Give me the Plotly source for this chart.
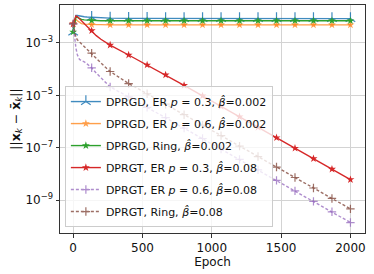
import numpy as np
import plotly.graph_objects as go

# Epoch grid (dense early, then every 2000/15 epochs)
epochs = [0, 10, 20, 30, 45, 60, 80, 100, 133.3, 166.7, 200, 233.3, 266.7, 400, 533.3,
          666.7, 800, 933.3, 1066.7, 1200, 1333.3, 1466.7, 1600, 1733.3, 1866.7, 2000]

# log10 of ||x_k - xbar_k||
dprgd_er03 = [-2.58, -2.15, -1.95, -1.95, -1.97, -1.99, -2.0, -2.01, -2.02, -2.03, -2.04, -2.05, -2.05,
              -2.06, -2.06, -2.07, -2.07, -2.07, -2.07, -2.07, -2.07, -2.07, -2.07, -2.07, -2.07, -2.07]
dprgd_er06 = [-2.27, -2.15, -2.1, -2.15, -2.22, -2.26, -2.28, -2.29, -2.3, -2.3, -2.3, -2.31, -2.31,
              -2.31, -2.31, -2.31, -2.31, -2.31, -2.31, -2.31, -2.31, -2.31, -2.31, -2.31, -2.31, -2.31]
dprgd_ring = [-2.58, -2.2, -2.0, -2.02, -2.07, -2.1, -2.12, -2.13, -2.14, -2.14, -2.15, -2.15, -2.15,
              -2.15, -2.15, -2.15, -2.15, -2.15, -2.15, -2.15, -2.15, -2.15, -2.15, -2.15, -2.15, -2.15]
dprgt_er03 = [-2.27, -2.1, -1.97, -1.99, -2.07, -2.15, -2.27, -2.38, -2.53, -2.72, -2.86, -2.98, -3.08,
              -3.46, -3.84, -4.22, -4.62, -5.02, -5.42, -5.82, -6.22, -6.62, -7.02, -7.42, -7.82, -8.22]
dprgt_er06 = [-2.27, -2.8, -3.2, -3.45, -3.62, -3.68, -3.72, -3.8, -3.95, -4.15, -4.34, -4.52, -4.68,
              -5.06, -5.46, -5.85, -6.25, -6.65, -7.05, -7.45, -7.85, -8.25, -8.65, -9.05, -9.45, -9.86]
dprgt_ring = [-2.27, -2.6, -2.78, -2.88, -2.96, -3.02, -3.12, -3.22, -3.39, -3.57, -3.75, -3.93, -4.09,
              -4.55, -4.94, -5.34, -5.74, -6.14, -6.54, -6.94, -7.34, -7.74, -8.14, -8.54, -8.94, -9.34]

names = ["DPRGD, ER <i>p</i> = 0.3, <i>β̂</i>=0.002",
         "DPRGD, ER <i>p</i> = 0.6, <i>β̂</i>=0.002",
         "DPRGD, Ring, <i>β̂</i>=0.002",
         "DPRGT, ER <i>p</i> = 0.3, <i>β̂</i>=0.08",
         "DPRGT, ER <i>p</i> = 0.6, <i>β̂</i>=0.08",
         "DPRGT, Ring, <i>β̂</i>=0.08"]
series = [dprgd_er03, dprgd_er06, dprgd_ring, dprgt_er03, dprgt_er06, dprgt_ring]
colors = ["#1f77b4", "#ff7f0e", "#2ca02c", "#d62728", "#9467bd", "#8c564b"]
symbols = ["y-up", "star", "star", "star", "cross-thin", "cross-thin"]
msizes = [8, 6, 6, 6, 6, 6]
dashes = ["solid", "solid", "solid", "solid", "3px,2px", "3px,2px"]
opac = [0.85, 0.75, 1.0, 1.0, 0.75, 0.85]

E = np.array(epochs)
is_mark = np.isclose((E * 15 / 2000) - np.round(E * 15 / 2000), 0, atol=0.01)

fig = go.Figure()
for i in range(6):
    y = 10 ** np.array(series[i])
    fig.add_trace(go.Scatter(x=E, y=y, mode="lines", showlegend=False, opacity=opac[i],
                             line=dict(color=colors[i], width=1.4, dash=dashes[i]), hoverinfo="skip"))
    mk = dict(symbol=symbols[i], size=msizes[i], color=colors[i],
              line=dict(color=colors[i], width=1.2 if symbols[i] in ("y-up", "cross-thin") else 0))
    fig.add_trace(go.Scatter(x=E[is_mark], y=y[is_mark], mode="markers", showlegend=False,
                             opacity=opac[i], marker=mk))
for i in range(6):
    mk = dict(symbol=symbols[i], size=msizes[i], color=colors[i],
              line=dict(color=colors[i], width=1.2 if symbols[i] in ("y-up", "cross-thin") else 0))
    fig.add_trace(go.Scatter(x=[None], y=[None], mode="lines+markers", name=names[i],
                             legendgroup="g%d" % i, opacity=opac[i],
                             line=dict(color=colors[i], width=1.4, dash=dashes[i]), marker=mk))

ytick_vals = [1e-3, 1e-5, 1e-7, 1e-9]
ytick_text = ["10<sup>−3</sup>", "10<sup>−5</sup>", "10<sup>−7</sup>", "10<sup>−9</sup>"]
xtick_vals = [0, 500, 1000, 1500, 2000]

fig.update_layout(
    width=374, height=274,
    margin=dict(l=60, r=9, t=5, b=41),
    paper_bgcolor="white", plot_bgcolor="white",
    font=dict(family="DejaVu Sans", size=12, color="#111"),
    legend=dict(x=0.016, y=0.026, xanchor="left", yanchor="bottom",
                bgcolor="rgba(255,255,255,0.8)", bordercolor="#cccccc", borderwidth=1,
                font=dict(size=11), tracegroupgap=3),
    xaxis=dict(range=[-95, 2105], tickvals=xtick_vals, showgrid=True, gridcolor="#d3d3d3",
               gridwidth=1, zeroline=False, showline=True, linecolor="#333", linewidth=1,
               mirror=True, ticks="outside", ticklen=3.5, tickcolor="#333",
               tickfont=dict(size=12),
               title=dict(text="Epoch", standoff=2, font=dict(size=12))),
    yaxis=dict(type="log", range=[-10.26, -1.55], tickvals=ytick_vals, ticktext=ytick_text,
               showgrid=True, gridcolor="#d3d3d3", gridwidth=1, zeroline=False, showline=True,
               linecolor="#333", linewidth=1, mirror=True, ticks="outside", ticklen=3.5,
               tickcolor="#333", tickfont=dict(size=12),
               title=dict(text="||<b>x</b><sub><i>k</i></sub> − <b>x̄</b><sub><i>k</i></sub>||",
                          standoff=2, font=dict(size=12.5))),
)

fig.write_html("out.html", config={"displayModeBar": False},
               post_script="document.body.style.margin='0px';")
